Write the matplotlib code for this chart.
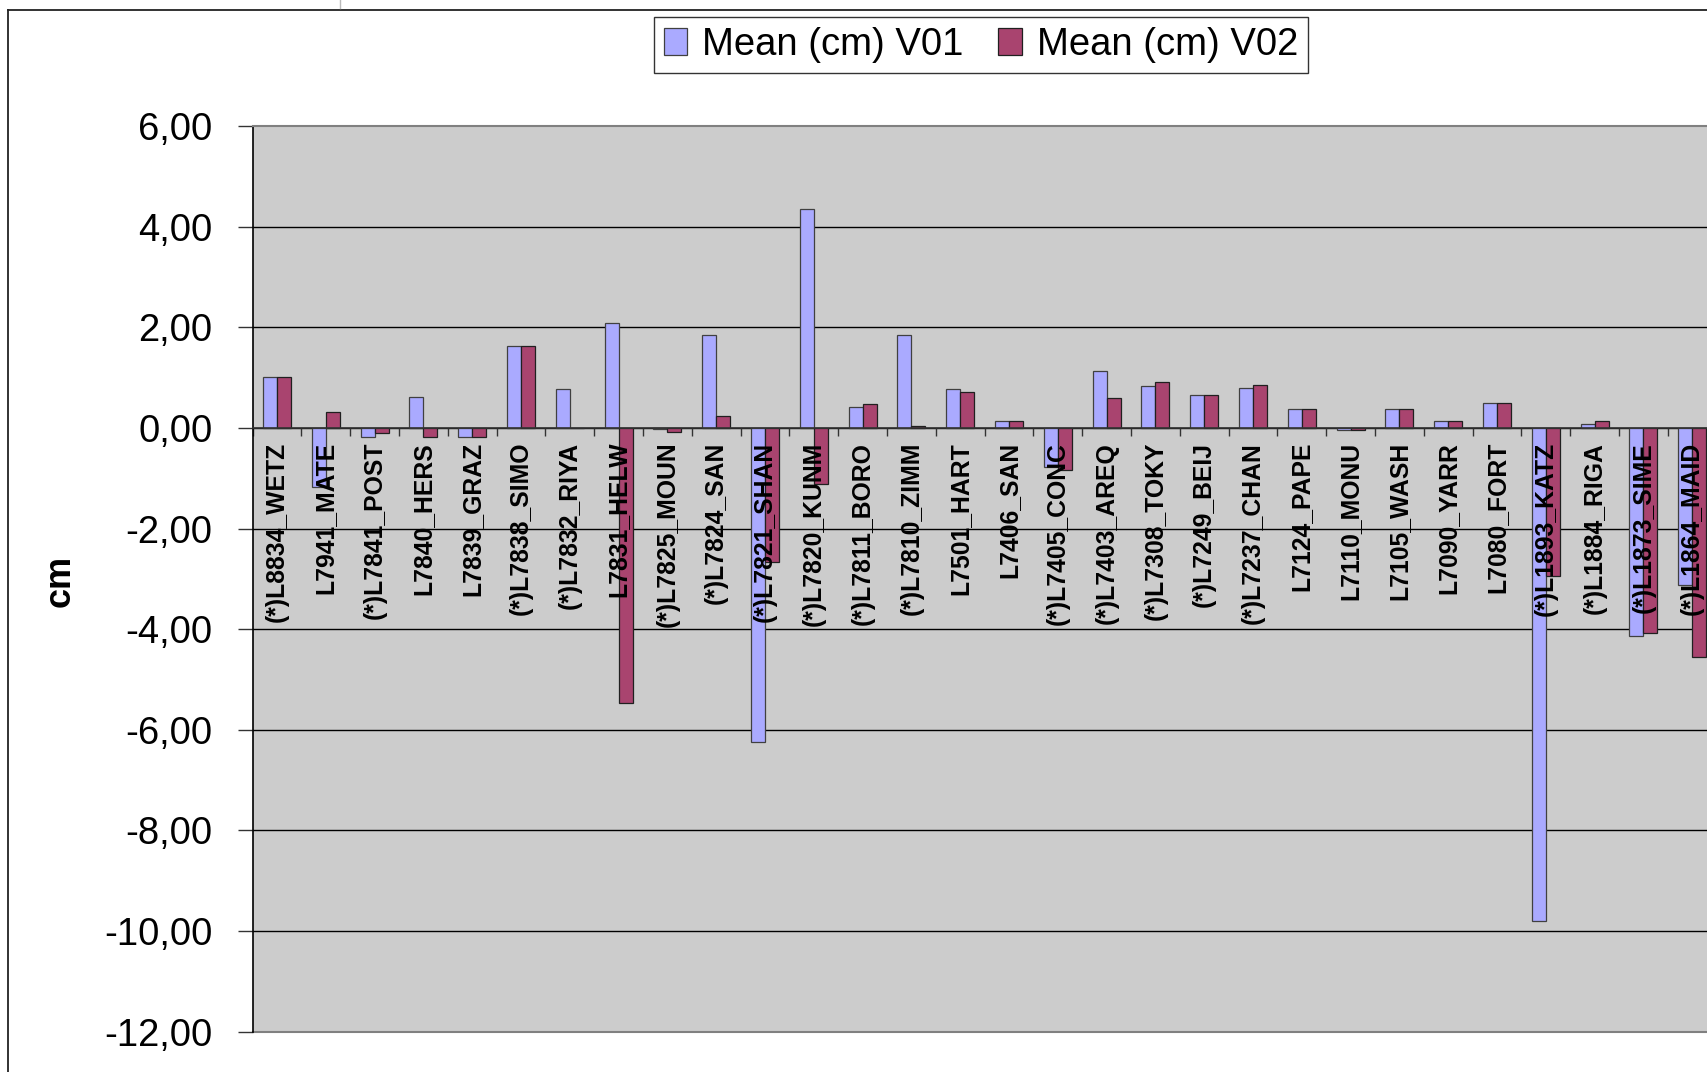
import numpy as np
import matplotlib.pyplot as plt
from matplotlib.ticker import FuncFormatter
from matplotlib.lines import Line2D

plt.rcParams['font.family'] = ['Liberation Sans', 'DejaVu Sans']

stations = ["(*)L8834_WETZ", "L7941_MATE", "(*)L7841_POST", "L7840_HERS", "L7839_GRAZ",
            "(*)L7838_SIMO", "(*)L7832_RIYA", "L7831_HELW", "(*)L7825_MOUN", "(*)L7824_SAN",
            "(*)L7821_SHAN", "(*)L7820_KUNM", "(*)L7811_BORO", "(*)L7810_ZIMM", "L7501_HART",
            "L7406_SAN", "(*)L7405_CONC", "(*)L7403_AREQ", "(*)L7308_TOKY", "(*)L7249_BEIJ",
            "(*)L7237_CHAN", "L7124_PAPE", "L7110_MONU", "L7105_WASH", "L7090_YARR",
            "L7080_FORT", "(*)L1893_KATZ", "(*)L1884_RIGA", "(*)L1873_SIME", "(*)L1864_MAID"]

mean_v01 = [1.01, -1.17, -0.18, 0.61, -0.18, 1.62, 0.78, 2.09, -0.02, 1.85,
            -6.24, 4.35, 0.42, 1.85, 0.78, 0.13, -0.78, 1.14, 0.84, 0.66,
            0.79, 0.38, -0.05, 0.38, 0.14, 0.50, -9.79, 0.08, -4.14, -3.12]
mean_v02 = [1.01, 0.31, -0.11, -0.18, -0.18, 1.62, 0.00, -5.47, -0.08, 0.24,
            -2.66, -1.11, 0.48, 0.03, 0.72, 0.13, -0.83, 0.60, 0.91, 0.66,
            0.85, 0.38, -0.05, 0.38, 0.14, 0.50, -2.95, 0.14, -4.08, -4.56]

blue = '#AAAAFF'
plum = '#A9446F'

W, H = 1707, 1072
fig = plt.figure(figsize=(W / 100, H / 100), dpi=100)

# chart area frame (runs off the right/bottom of the picture)
fig.add_artist(Line2D([8 / W, 8 / W], [1 - 10 / H, -0.01], color='#222222', lw=1.3))
fig.add_artist(Line2D([8 / W, 1.01], [1 - 10 / H, 1 - 10 / H], color='#222222', lw=1.3))
fig.add_artist(Line2D([340 / W, 340 / W], [1.0, 1 - 8 / H], color='#BBBBBB', lw=1))

left = 252.6 / W
right = (252.6 + 48.8 * 30) / W
bottom = 1 - 1031.7 / H
top = 1 - 126 / H
ax = fig.add_axes([left, bottom, right - left, top - bottom])
ax.set_facecolor('#CCCCCC')

x = np.arange(len(stations))
bw = 1 / 3.5
ax.bar(x - bw / 2, mean_v01, bw, color=blue, edgecolor='#404040', linewidth=0.9,
       label='Mean (cm) V01', zorder=1)
ax.bar(x + bw / 2, mean_v02, bw, color=plum, edgecolor='#202020', linewidth=0.9,
       label='Mean (cm) V02', zorder=1)

ax.set_xlim(-0.5, len(stations) - 0.5)
ax.set_ylim(-12, 6)

# gridlines behind the bars
for yv in range(-10, 6, 2):
    ax.axhline(yv, color='black', lw=1, zorder=0.5)
ax.axhline(-12, color='#808080', lw=1.5, zorder=0.5, clip_on=False)

ax.spines['top'].set_color('#808080')
ax.spines['top'].set_linewidth(1.5)
ax.spines['right'].set_visible(False)
ax.spines['left'].set_color('black')
ax.spines['left'].set_linewidth(1.2)
ax.spines['bottom'].set_position(('data', 0))
ax.spines['bottom'].set_color('#333333')
ax.spines['bottom'].set_linewidth(1.2)

# category axis: tick marks between groups, labels at group centres
ax.set_xticks(np.arange(len(stations) + 1) - 0.5)
ax.set_xticklabels([])
ax.tick_params(axis='x', which='major', direction='out', length=6, width=1, color='#333333')
ax.set_xticks(x, stations, minor=True)
ax.tick_params(axis='x', which='minor', length=0, pad=10)
for lbl in ax.get_xticklabels(minor=True):
    lbl.set_rotation(90)
    lbl.set_fontsize(17.8)
    lbl.set_fontweight('bold')

ax.set_yticks(np.arange(-12, 7, 2))
ax.yaxis.set_major_formatter(FuncFormatter(lambda v, p: f'{v:.2f}'.replace('.', ',')))
ax.tick_params(axis='y', direction='out', length=11, width=1, color='#333333',
               labelsize=27.5, pad=18)

fig.text(60 / W, 1 - 581 / H, 'cm', rotation=90, ha='center', va='center',
         fontsize=26, fontweight='bold')

leg = fig.legend(loc='center', bbox_to_anchor=(981 / W, 1 - 45 / H), ncol=2,
                 fontsize=27.5, frameon=True, fancybox=False, shadow=False,
                 handlelength=0.62, handleheight=0.72, handletextpad=0.4,
                 columnspacing=0.9, borderpad=0.25, borderaxespad=0)
leg.get_frame().set_edgecolor('black')
leg.get_frame().set_linewidth(1)

fig.savefig('out.png', dpi=100)
